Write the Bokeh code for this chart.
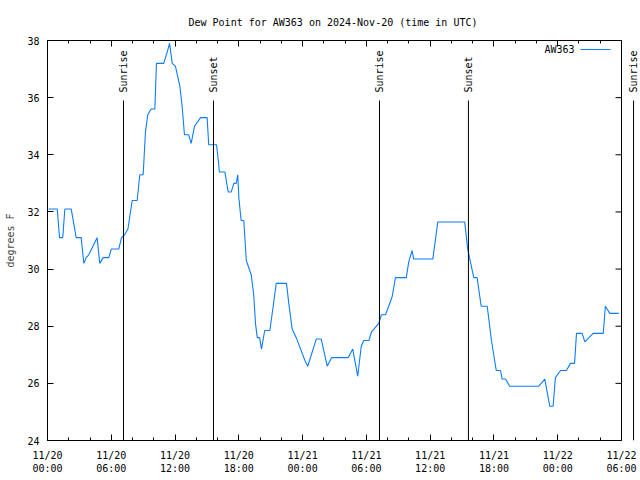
import numpy as np
import pandas as pd
from bokeh.plotting import figure
from bokeh.models import (FixedTicker, DatetimeAxis, Label, Arrow, Span,
                          Range1d, DatetimeTickFormatter)
from bokeh.embed import file_html
from bokeh.resources import INLINE

# ---------------- data ----------------
times = [
    "2024-11-20 00:06", "2024-11-20 00:55", "2024-11-20 01:08", "2024-11-20 01:26",
    "2024-11-20 01:38", "2024-11-20 02:14", "2024-11-20 02:28", "2024-11-20 02:42",
    "2024-11-20 03:10", "2024-11-20 03:25", "2024-11-20 03:38", "2024-11-20 03:53",
    "2024-11-20 04:40", "2024-11-20 04:55", "2024-11-20 05:14", "2024-11-20 05:46",
    "2024-11-20 06:00", "2024-11-20 06:42", "2024-11-20 06:58", "2024-11-20 07:15",
    "2024-11-20 07:34", "2024-11-20 07:58", "2024-11-20 08:26", "2024-11-20 08:41",
    "2024-11-20 09:00", "2024-11-20 09:13", "2024-11-20 09:26", "2024-11-20 09:45",
    "2024-11-20 10:06", "2024-11-20 10:15", "2024-11-20 10:56", "2024-11-20 11:16",
    "2024-11-20 11:29", "2024-11-20 11:44", "2024-11-20 12:02", "2024-11-20 12:27",
    "2024-11-20 12:40", "2024-11-20 12:53", "2024-11-20 13:17", "2024-11-20 13:31",
    "2024-11-20 13:50", "2024-11-20 14:24", "2024-11-20 15:01", "2024-11-20 15:10",
    "2024-11-20 15:54", "2024-11-20 16:06", "2024-11-20 16:10", "2024-11-20 16:41",
    "2024-11-20 17:00", "2024-11-20 17:17", "2024-11-20 17:32", "2024-11-20 17:45",
    "2024-11-20 17:54", "2024-11-20 18:00", "2024-11-20 18:13", "2024-11-20 18:28",
    "2024-11-20 18:38", "2024-11-20 18:42", "2024-11-20 19:10", "2024-11-20 19:24",
    "2024-11-20 19:34", "2024-11-20 19:44", "2024-11-20 19:57", "2024-11-20 20:08",
    "2024-11-20 20:26", "2024-11-20 20:55", "2024-11-20 21:14", "2024-11-20 21:31",
    "2024-11-20 22:29", "2024-11-20 22:42", "2024-11-20 23:01", "2024-11-20 23:24",
    "2024-11-21 00:13", "2024-11-21 00:29", "2024-11-21 01:17", "2024-11-21 01:45",
    "2024-11-21 02:19", "2024-11-21 02:43", "2024-11-21 04:17", "2024-11-21 04:43",
    "2024-11-21 05:11", "2024-11-21 05:31", "2024-11-21 05:45", "2024-11-21 06:14",
    "2024-11-21 06:29", "2024-11-21 07:10", "2024-11-21 07:25", "2024-11-21 07:48",
    "2024-11-21 08:06", "2024-11-21 08:26", "2024-11-21 08:44", "2024-11-21 09:45",
    "2024-11-21 09:59", "2024-11-21 10:18", "2024-11-21 10:27", "2024-11-21 12:15",
    "2024-11-21 12:43", "2024-11-21 15:15", "2024-11-21 15:32", "2024-11-21 16:06",
    "2024-11-21 16:25", "2024-11-21 16:48", "2024-11-21 17:22", "2024-11-21 17:46",
    "2024-11-21 18:13", "2024-11-21 18:37", "2024-11-21 18:46", "2024-11-21 19:05",
    "2024-11-21 19:29", "2024-11-21 22:13", "2024-11-21 22:47", "2024-11-21 23:15",
    "2024-11-21 23:34", "2024-11-21 23:47", "2024-11-22 00:16", "2024-11-22 00:49",
    "2024-11-22 01:12", "2024-11-22 01:35", "2024-11-22 01:46", "2024-11-22 02:18",
    "2024-11-22 02:33", "2024-11-22 03:20", "2024-11-22 04:17", "2024-11-22 04:29",
    "2024-11-22 04:54", "2024-11-22 05:45",
]
dew_point = [
    32.1, 32.1, 31.1, 31.1,
    32.1, 32.1, 31.6, 31.1,
    31.1, 30.2, 30.4, 30.5,
    31.1, 30.2, 30.4, 30.4,
    30.7, 30.7, 31.1, 31.2,
    31.4, 32.4, 32.4, 33.3,
    33.3, 34.8, 35.4, 35.6,
    35.6, 37.2, 37.2, 37.6,
    37.9, 37.2, 37.1, 36.4,
    35.7, 34.7, 34.7, 34.4,
    35.0, 35.3, 35.3, 34.35,
    34.35, 33.7, 33.4, 33.4,
    32.7, 32.7, 33.0, 33.0,
    33.3, 32.5, 31.7, 31.7,
    30.7, 30.3, 29.8, 29.1,
    28.1, 27.6, 27.6, 27.2,
    27.85, 27.85, 28.7, 29.5,
    29.5, 28.8, 27.9, 27.6,
    26.8, 26.6, 27.55, 27.55,
    26.6, 26.9, 26.9, 27.2,
    26.25, 27.3, 27.5, 27.5,
    27.8, 28.1, 28.4, 28.4,
    28.7, 29.05, 29.7, 29.7,
    30.25, 30.65, 30.35, 30.35,
    31.65, 31.65, 30.7, 29.7,
    29.7, 28.7, 28.7, 27.5,
    26.45, 26.45, 26.15, 26.15,
    25.9, 25.9, 26.15, 25.2,
    25.2, 26.2, 26.45, 26.45,
    26.7, 26.7, 27.75, 27.75,
    27.45, 27.75, 27.75, 28.7,
    28.45, 28.45,
]
sun_event_times = ["2024-11-20 07:09", "2024-11-20 15:37", "2024-11-21 07:14",
                   "2024-11-21 15:36", "2024-11-22 07:08"]
sun_event_names = ["Sunrise", "Sunset", "Sunrise", "Sunset", "Sunrise"]
x_start, x_end = "2024-11-20 00:00", "2024-11-22 06:00"
y_ticks = [24, 26, 28, 30, 32, 34, 36, 38]
series_name = "AW363"
title_text = "Dew Point for AW363 on 2024-Nov-20 (time in UTC)"
y_label = "degrees F"


def to_ms(values):
    return pd.to_datetime(values).values.astype("datetime64[ms]").astype("int64")


t_ms = to_ms(times)
sun_ms = to_ms(sun_event_times)
x0_ms, x1_ms = [int(v) for v in to_ms([x_start, x_end])]
major_ms = [int(v) for v in to_ms(pd.date_range(x_start, x_end, freq="6h"))]
minor_ms = [int(v) for v in to_ms(pd.date_range(x_start, x_end, freq="2h"))]

# ---------------- layout ----------------
W, H = 640, 480
LEFT, TOP, BOTTOM = 47, 40, 40
AXIS_PX = 574                      # pixel length of the bordered time axis
FRAME_PX = W - LEFT                # frame runs to the canvas edge (room for last Sunrise)
x_view_end = x0_ms + (x1_ms - x0_ms) * FRAME_PX / AXIS_PX

FONT = "DejaVu Sans Mono"
FS = "10px"
BLUE = "#0c7cff"

p = figure(width=W, height=H, x_axis_type="datetime",
           output_backend="svg", toolbar_location=None,
           x_range=Range1d(x0_ms, x_view_end), y_range=Range1d(y_ticks[0], y_ticks[-1]),
           min_border_left=LEFT, min_border_right=0, min_border_top=TOP,
           min_border_bottom=BOTTOM)
p.background_fill_color = "white"
p.border_fill_color = "white"
p.outline_line_color = None
p.grid.visible = False

p.title.text = title_text
p.title.align = "left"
p.title.offset = 141
p.title.text_font = FONT
p.title.text_font_size = FS
p.title.text_font_style = "normal"
p.title.text_color = "black"
p.title.standoff = 26

xticker = FixedTicker(ticks=major_ms, minor_ticks=minor_ms)
yticker = FixedTicker(ticks=y_ticks, minor_ticks=[])
fmt = "%m/%d\n%H:%M"
xfmt = DatetimeTickFormatter(microseconds=fmt, milliseconds=fmt, seconds=fmt,
                             minsec=fmt, minutes=fmt, hourmin=fmt, hours=fmt,
                             days=fmt, months=fmt, years=fmt)


def style_axis(ax):
    ax.axis_line_color = "black"
    ax.major_tick_in = 6
    ax.major_tick_out = 0
    ax.minor_tick_in = 3
    ax.minor_tick_out = 0
    ax.major_tick_line_color = "black"
    ax.minor_tick_line_color = "black"
    ax.major_label_text_font = FONT
    ax.major_label_text_font_size = FS
    ax.major_label_text_color = "black"


bx = p.xaxis[0]
bx.ticker = xticker
bx.formatter = xfmt
bx.bounds = (x0_ms, x1_ms)
style_axis(bx)
bx.major_label_standoff = 9

ly = p.yaxis[0]
ly.ticker = yticker
style_axis(ly)
ly.major_label_standoff = 8
ly.axis_label = y_label
ly.axis_label_text_font = FONT
ly.axis_label_text_font_size = FS
ly.axis_label_text_font_style = "normal"
ly.axis_label_standoff = 8

# mirrored ticks on top (no labels drawn)
tx = DatetimeAxis(ticker=xticker, bounds=(x0_ms, x1_ms))
style_axis(tx)
tx.major_label_text_color = None
tx.major_label_text_font_size = "1px"
tx.major_label_standoff = 0
p.add_layout(tx, "above")

# right border at the end of the time axis, with mirrored y ticks
p.add_layout(Span(location=x1_ms, dimension="height", line_color="black", line_width=1))
p.ray(x=[x1_ms] * len(y_ticks), y=y_ticks, length=6, length_units="screen",
      angle=np.pi, line_color="black", line_width=1)

# data line
p.line(t_ms, dew_point, line_color=BLUE, line_width=1.1)

# sunrise / sunset markers
LINE_TOP = 35.9
TEXT_BOTTOM = 36.18
for t, name in zip(sun_ms, sun_event_names):
    p.add_layout(Arrow(x_start=int(t), y_start=y_ticks[0], x_end=int(t), y_end=LINE_TOP,
                       start=None, end=None, line_color="black", line_width=1))
    p.add_layout(Label(x=int(t), y=TEXT_BOTTOM, text=name, angle=90, angle_units="deg",
                       text_align="left", text_baseline="middle",
                       text_font=FONT, text_font_size=FS, text_color="black"))

# legend (text then sample line, gnuplot style)
p.add_layout(Label(x=527, y=391, x_units="screen", y_units="screen",
                   text=series_name, text_align="right", text_baseline="middle",
                   text_font=FONT, text_font_size=FS, text_color="black"))
p.add_layout(Arrow(x_start=533, y_start=391, x_end=563, y_end=391,
                   start_units="screen", end_units="screen", start=None, end=None,
                   line_color=BLUE, line_width=1.1))

open("out.html", "w").write(file_html(p, INLINE))
